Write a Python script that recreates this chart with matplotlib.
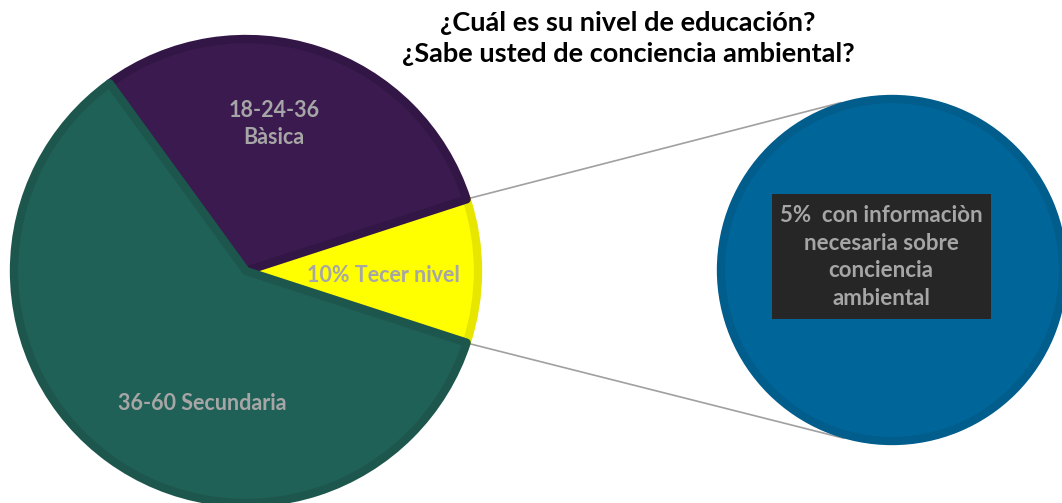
import numpy as np
import matplotlib
matplotlib.use('Agg')
import matplotlib.pyplot as plt
from matplotlib.patches import Rectangle

plt.rcParams['font.family'] = ['Lato', 'DejaVu Sans']

# datos
categorias = ['10% Tecer nivel', '18-24-36\nBàsica', '36-60 Secundaria']
valores = [10, 30, 60]
colores = ['#FFFF00', '#3B1A4F', '#206157']
bordes = ['#E6E600', '#321645', '#1D564C']
sub_valores = [5]
sub_etiqueta = '5%  con informaciòn\nnecesaria sobre\nconciencia\nambiental'
titulo = '¿Cuál es su nivel de educación?\n¿Sabe usted de conciencia ambiental?'

W, H = 1062, 503
fig = plt.figure(figsize=(W / 100, H / 100), dpi=100)
ax = fig.add_axes([0, 0, 1, 1])

# pastel principal (coordenadas en pixeles, y hacia arriba)
c1 = (246, H - 271)
r1 = 232
wedges, _ = ax.pie(valores, colors=colores, startangle=-18, counterclock=True,
                   center=c1, radius=r1,
                   wedgeprops=dict(linewidth=6, joinstyle='round'))
for w, b in zip(wedges, bordes):
    w.set_edgecolor(b)

# circulo de detalle
c2 = (892, H - 270)
r2 = 171
w2, _ = ax.pie(sub_valores, colors=['#006699'], center=c2, radius=r2,
               wedgeprops=dict(linewidth=6, edgecolor='#005D8C'))

ax.set_xlim(0, W)
ax.set_ylim(0, H)
ax.set_aspect('equal')
ax.axis('off')

# lineas de conexion
y = wedges[0]
R = r1 + 4
for ang, ang2 in [(y.theta2, 107), (y.theta1, -106)]:
    x0 = c1[0] + R * np.cos(np.radians(ang))
    y0 = c1[1] + R * np.sin(np.radians(ang))
    x1 = c2[0] + (r2 + 4) * np.cos(np.radians(ang2))
    y1 = c2[1] + (r2 + 4) * np.sin(np.radians(ang2))
    ax.plot([x0, x1], [y0, y1], color='#A0A0A0', lw=1.2, zorder=0)

# etiquetas
gris = '#A6A6A6'
pos = [(383, H - 275), (274, H - 124), (202, H - 403)]
for (px, py), txt in zip(pos, categorias):
    ax.text(px, py, txt, ha='center', va='center', color=gris,
            fontsize=15.5, fontweight='bold', linespacing=1.3)

ax.add_patch(Rectangle((772, H - 319), 219, 125, facecolor='#262626',
                       edgecolor='none', zorder=3))
ax.text(881, H - 257, sub_etiqueta, ha='center', va='center', color=gris,
        fontsize=16, fontweight='bold', linespacing=1.4, zorder=4)

ax.text(628, H - 38, titulo, ha='center', va='center', color='black',
        fontsize=19.5, fontweight='bold', linespacing=1.35)

fig.savefig('out.png', dpi=100)
